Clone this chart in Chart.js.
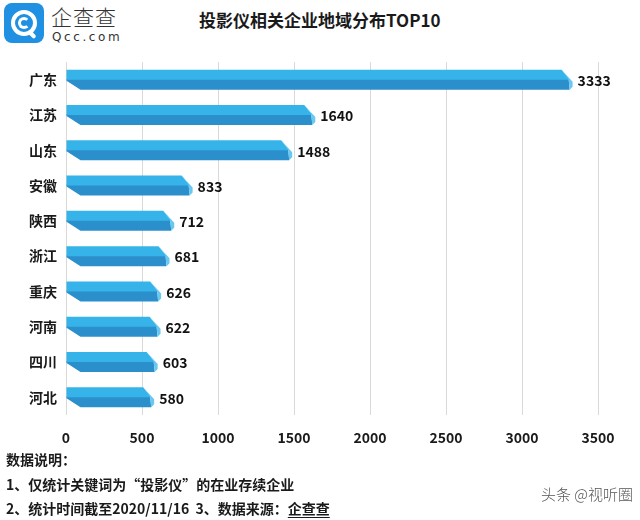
<!DOCTYPE html>
<html>
<head>
<meta charset="utf-8">
<script src="https://cdn.jsdelivr.net/npm/chart.js@4"></script>
<style>
  html, body { margin: 0; padding: 0; background: #fff; }
  body { width: 640px; height: 520px; position: relative; overflow: hidden;
         font-family: "Noto Sans CJK SC", "Noto Sans", sans-serif; color: #1a1a1a; }
  #grafica { position: absolute; left: 0; top: 0; }
  .logo { position: absolute; left: 4px; top: 3px; width: 40px; height: 40px;
          border-radius: 8px; background: #1f90e2; }
  .logo .anillo { position: absolute; left: 7px; top: 7px; width: 18px; height: 18px;
          border: 4px solid #fff; border-radius: 50%; }
  .logo .interior { position: absolute; left: 14px; top: 14px; width: 6px; height: 6px;
          border: 3px solid #fff; border-radius: 50%; border-right-color: transparent; }
  .logo .cola { position: absolute; left: 26px; top: 27px; width: 4px; height: 9px;
          background: #fff; transform: rotate(-45deg); border-radius: 2px; }
  .marca { position: absolute; left: 51px; top: 1px; font-size: 21px; color: #333;
           letter-spacing: 1px; font-weight: 300; }
  .dominio { position: absolute; left: 52px; top: 30px; font-size: 12px; color: #333;
             letter-spacing: 2.6px; font-family: "DejaVu Sans", sans-serif; }
  .titulo { position: absolute; left: 199px; top: 7px; font-size: 17px; font-weight: bold; color: #1a1a1a; }
  .nota { position: absolute; left: 6px; font-size: 14px; font-weight: bold; color: #1a1a1a; white-space: pre; }
  .nota u { text-decoration-thickness: 1px; text-underline-offset: 3px; }
  .marcaAgua { position: absolute; left: 541px; top: 483px; font-size: 15px; color: #555; font-weight: 300; }
</style>
</head>
<body>
<div class="logo"><div class="anillo"></div><div class="interior"></div><div class="cola"></div></div>
<div class="marca">企查查</div>
<div class="dominio">Qcc.com</div>
<div class="titulo">投影仪相关企业地域分布TOP10</div>
<canvas id="grafica" width="640" height="520"></canvas>
<div class="nota" style="top:449px">数据说明：</div>
<div class="nota" style="top:474px">1、仅统计关键词为“投影仪”的在业存续企业</div>
<div class="nota" style="top:498px">2、统计时间截至2020/11/16  3、数据来源：<u>企查查</u></div>
<div class="marcaAgua">头条 @视听圈</div>
<script>
"use strict";
/* DATOS */
const regiones = ["广东", "江苏", "山东", "安徽", "陕西", "浙江", "重庆", "河南", "四川", "河北"];
const empresas = [3333, 1640, 1488, 833, 712, 681, 626, 622, 603, 580];
const ejeMaximo = 3500;
const ejePaso = 500;

const fuente = "\"Noto Sans CJK SC\", \"Noto Sans\", sans-serif";

/* BARRAS 3D */
const barras3d = {
    id: "barras3d",
    afterDatasetsDraw(chart) {
        const ctx = chart.ctx;
        const meta = chart.getDatasetMeta(0);
        meta.data.forEach((barra, i) => {
            const izq = barra.base;
            const der = barra.x;
            const arriba = barra.y - barra.height / 2;
            const abajo = barra.y + barra.height / 2;
            const medio = arriba + barra.height * 0.45;
            const d = 11;
            ctx.save();
            // cara inferior oscura
            ctx.fillStyle = "#2b8fcb";
            ctx.beginPath();
            ctx.moveTo(izq, medio);
            ctx.lineTo(der - 4, medio);
            ctx.lineTo(der - 3, abajo);
            ctx.lineTo(izq + 14, abajo);
            ctx.lineTo(izq, medio + 2);
            ctx.closePath();
            ctx.fill();
            // cara superior clara
            ctx.fillStyle = "#36b4ea";
            ctx.beginPath();
            ctx.moveTo(izq, arriba);
            ctx.lineTo(der - d, arriba);
            ctx.lineTo(der - 3, medio + 1);
            ctx.lineTo(izq, medio + 1);
            ctx.closePath();
            ctx.fill();
            // bisel del extremo
            ctx.fillStyle = "#68c8f1";
            ctx.beginPath();
            ctx.moveTo(der - d, arriba);
            ctx.lineTo(der, arriba + 12);
            ctx.lineTo(der, abajo - 3);
            ctx.lineTo(der - 3, abajo);
            ctx.lineTo(der - 4, medio);
            ctx.closePath();
            ctx.fill();
            // etiqueta
            ctx.fillStyle = "#111";
            ctx.font = "bold 14px " + fuente;
            ctx.textAlign = "left";
            ctx.textBaseline = "middle";
            ctx.fillText(empresas[i].toString(), der + 5, barra.y + 1);
            ctx.restore();
        });
    }
};

/* GRAFICA */
function inicializarGrafica() {
    const canvas = document.getElementById("grafica");
    new Chart(canvas, {
        type: "bar",
        data: {
            labels: regiones,
            datasets: [{
                data: empresas,
                backgroundColor: "rgba(0,0,0,0)",
                borderWidth: 0,
                barThickness: 20
            }]
        },
        options: {
            indexAxis: "y",
            responsive: false,
            animation: false,
            layout: { padding: { top: 62, right: 42, bottom: 65, left: 0 } },
            plugins: { legend: { display: false }, tooltip: { enabled: false } },
            scales: {
                x: {
                    min: 0,
                    max: ejeMaximo,
                    afterFit: escala => { escala.height = 40; },
                    ticks: {
                        stepSize: ejePaso,
                        padding: 14,
                        color: "#1a1a1a",
                        font: { family: fuente, size: 14, weight: "bold" },
                        callback: valor => String(valor)
                    },
                    grid: { color: "#d9d9d9", lineWidth: 1, drawTicks: false },
                    border: { display: false }
                },
                y: {
                    afterFit: escala => { escala.width = 66; },
                    ticks: {
                        padding: 9,
                        color: "#1a1a1a",
                        font: { family: fuente, size: 14, weight: "bold" }
                    },
                    grid: { display: false, drawTicks: false },
                    border: { display: false }
                }
            }
        },
        plugins: [barras3d]
    });
}

document.addEventListener("DOMContentLoaded", inicializarGrafica);
</script>
</body>
</html>
